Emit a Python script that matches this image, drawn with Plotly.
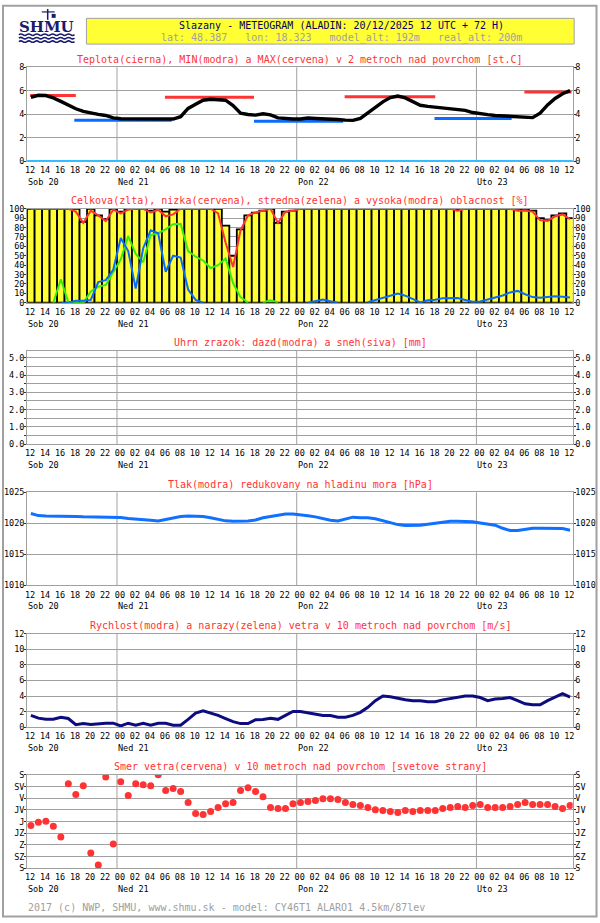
import plotly.graph_objects as go

# ---------------- data ----------------
HOURS = list(range(73))  # forecast hours after 20/12/2025 12 UTC
SLOT = 0.5               # values are drawn in the middle of each hourly slot

TICK_HOURS = list(range(0, 73, 2))
TICK_LABELS = ["12", "14", "16", "18", "20", "22",
               "00", "02", "04", "06", "08", "10", "12", "14", "16", "18", "20", "22",
               "00", "02", "04", "06", "08", "10", "12", "14", "16", "18", "20", "22",
               "00", "02", "04", "06", "08", "10", "12"]
DAY_HOURS = [0, 12, 36, 60]
DAY_LABELS = ["Sob 20", "Ned 21", "Pon 22", "Uto 23"]
MIDNIGHTS = [12, 36, 60]

TEMP = [5.45, 5.62, 5.6, 5.4, 5.1, 4.78, 4.47, 4.25, 4.1, 4.0, 3.9, 3.7,
        3.62, 3.62, 3.62, 3.6, 3.6, 3.62, 3.57, 3.6, 3.8, 4.5, 4.85, 5.2,
        5.28, 5.27, 5.2, 4.75, 4.1, 3.98, 3.93, 4.04, 3.95, 3.7, 3.62, 3.6,
        3.6, 3.68, 3.64, 3.62, 3.62, 3.56, 3.5, 3.48, 3.65, 4.1, 4.55, 5.06,
        5.42, 5.56, 5.4, 5.06, 4.77, 4.68, 4.6, 4.52, 4.46, 4.41, 4.33, 4.15,
        4.03, 3.97, 3.9, 3.87, 3.82, 3.75, 3.72, 3.72, 4.1, 4.8, 5.35, 5.75, 6.02]
TMAX_START = [0.4, 18.4, 42.4, 66.4]
TMAX_END = [6.5, 30.3, 54.5, 72.7]
TMAX_VAL = [5.6, 5.45, 5.5, 5.9]
TMIN_START = [6.3, 30.3, 54.4]
TMIN_END = [19.3, 42.2, 64.7]
TMIN_VAL = [3.5, 3.4, 3.65]
FREEZING = 0.0

CLOUD_TOTAL = [100, 100, 100, 100, 100, 100, 100, 86, 100, 93, 89, 100, 97,
               100, 100, 100, 98, 100, 97, 99, 100, 100, 100, 100, 100, 100,
               82, 50, 78, 93, 96, 98, 100, 85, 97, 98,
               100, 100, 100, 100, 100, 100, 100, 100, 100, 100, 100, 100, 100,
               100, 100, 100, 100, 100, 100, 100, 100, 99,
               100, 100, 100, 100, 100, 100, 100, 100, 100,
               98, 90, 88, 93, 95, 90]
CLOUD_LOW = [100, 100, 100, 100, 100, 100, 97, 85, 98, 93, 87, 99, 95, 99,
             100, 100, 96, 99, 92, 94, 100, 100, 100, 100, 100,
             95, 64, 38, 77, 93, 96, 98, 100, 85, 97, 98,
             100, 100, 100, 100, 100, 100, 100, 100, 100, 100, 100, 100, 100,
             100, 100, 100, 100, 100, 100, 100, 100, 98,
             100, 100, 100, 100, 100, 100, 100,
             98, 98, 97, 88, 87, 92, 94, 89]
N = None
CLOUD_MID = [N, N, N, 0, 25, 0.5, 0, 0, 12, 17, 19, 32, 46, 71, 52, 43, 72, 74,
             78, 83.5, 84, 55, 49, 45, 37, 40, 47, 21, 6, 0, N, 0.5, 2.5, 0.5,
             N, N, N, N, N, N, N, N, N, N, N, N, N, N, N, N, N, N, N, N, N, N,
             N, N, N, N, N, N, N, N, N, N, N, N, N, N, N, N, N]
CLOUD_HIGH = [N, N, N, N, 0, 0, 2, 2, 3, 22, 24, 35, 69, 55, 15, 58, 77, 74,
              33, 50, 48, 14, 3, 0, N, N, N, N, N, N, N, N, N, N, N, N, N,
              0, 2, 3.5, 1.5, 0, N, N, N,
              0.5, 2.8, 5, 7.7, 9.8, 7.5, 4, 0.4, 2.7, 3.2, 4.8, 5, 5, 3, 1,
              1.4, 3.5, 5, 7.7, 11, 12.6, 9, 6, 5.2, 6.3, 7, 6.3, 5.5]

RAIN = [0.0] * 73
SNOW = [0.0] * 73

PRESSURE = [1021.58, 1021.25, 1021.2, 1021.2, 1021.2, 1021.2, 1021.12, 1021.05,
            1021.05, 1021.05, 1021.05, 1021.04, 1020.93, 1020.8, 1020.72, 1020.7,
            1020.5, 1020.38, 1020.65, 1020.95, 1021.1, 1021.2, 1021.2, 1021.1,
            1020.9, 1020.6, 1020.4, 1020.35, 1020.35, 1020.38, 1020.55, 1020.9,
            1021.1, 1021.3, 1021.52, 1021.52, 1021.42, 1021.22, 1021.05, 1020.8,
            1020.5, 1020.4, 1020.65, 1021.0, 1020.9, 1020.9, 1020.75, 1020.45,
            1020.15, 1019.8, 1019.65, 1019.65, 1019.7, 1019.85, 1020.0, 1020.2,
            1020.35, 1020.35, 1020.32, 1020.25, 1020.05, 1019.9, 1019.7, 1019.2,
            1018.85, 1018.85, 1019.05, 1019.2, 1019.2, 1019.2, 1019.2, 1019.15,
            1018.9]

WIND = [1.5, 1.15, 1.0, 1.0, 1.25, 1.1, 0.3, 0.45, 0.35, 0.45, 0.5, 0.5,
        0.15, 0.5, 0.25, 0.5, 0.25, 0.5, 0.5, 0.25, 0.25, 1.0, 1.8, 2.1,
        1.85, 1.5, 1.1, 0.7, 0.45, 0.45, 0.95, 0.97, 1.14, 1.0, 1.5, 2.0,
        2.0, 1.82, 1.6, 1.5, 1.48, 1.27, 1.27, 1.5, 1.9, 2.55, 3.4, 4.0,
        3.9, 3.7, 3.52, 3.4, 3.4, 3.27, 3.27, 3.5, 3.69, 3.8, 4.0, 4.0,
        3.8, 3.4, 3.6, 3.69, 3.8, 3.4, 3.0, 2.88, 2.88, 3.4, 3.8, 4.3, 3.85]

WIND_DIR = [195, 183, 179, 198, 240, 34, 76, 42, 301, 347, 8, 267, 27, 80,
            34, 38, 42, 0, 60, 53, 64, 107, 149, 153, 141, 126, 111, 107, 60,
            50, 64, 84, 126, 130, 130, 111, 107,
            103, 99, 92, 92, 95, 107, 114, 118, 126, 134, 137, 141, 145, 137,
            141, 137, 137, 137, 130, 126, 122, 126, 118, 114, 126, 126, 126,
            122, 114, 107, 114, 114, 114, 122, 130, 118]
DIR_TICKS = [0, 45, 90, 135, 180, 225, 270, 315, 360]
DIR_LABELS = ["S", "SV", "V", "JV", "J", "JZ", "Z", "SZ", "S"]

TITLES = ["Teplota(cierna), MIN(modra) a MAX(cervena) v 2 metroch nad povrchom [st.C]",
          "Celkova(zlta), nizka(cervena), stredna(zelena) a vysoka(modra) oblacnost [%]",
          "Uhrn zrazok: dazd(modra) a sneh(siva) [mm]",
          "Tlak(modra) redukovany na hladinu mora [hPa]",
          "Rychlost(modra) a narazy(zelena) vetra v 10 metroch nad povrchom [m/s]",
          "Smer vetra(cervena) v 10 metroch nad povrchom [svetove strany]"]
HEADER_1 = "Slazany - METEOGRAM (ALADIN: 20/12/2025 12 UTC + 72 H)"
HEADER_2 = "lat: 48.387   lon: 18.323   model_alt: 192m   real_alt: 200m"
FOOTER = "2017 (c) NWP, SHMU, www.shmu.sk - model: CY46T1 ALARO1 4.5km/87lev"

# ---------------- layout constants ----------------
W, H = 600, 923
X0, X1 = 25.3, 574.5
XRANGE = [0, 72.85]
PANELS = [(63, 158), (206, 301), (349.3, 444), (492.7, 586.7), (635.7, 730), (778.3, 872.7)]
FONT = "DejaVu Sans Mono"
GRID = "#a0a0a0"
RED = "#ff3333"
BLUE = "#0a6cff"


def pxx(p):
    return p / W


def pxy(p):
    return 1 - p / H


xs = [h + SLOT for h in HOURS]

fig = go.Figure()

# panel 1: temperature
for s, e, v in zip(TMAX_START, TMAX_END, TMAX_VAL):
    fig.add_trace(go.Scatter(x=[s, e], y=[v, v], mode="lines", line=dict(color=RED, width=3),
                             xaxis="x", yaxis="y", hoverinfo="skip"))
for s, e, v in zip(TMIN_START, TMIN_END, TMIN_VAL):
    fig.add_trace(go.Scatter(x=[s, e], y=[v, v], mode="lines", line=dict(color=BLUE, width=3),
                             xaxis="x", yaxis="y", hoverinfo="skip"))
fig.add_trace(go.Scatter(x=xs, y=TEMP, mode="lines", line=dict(color="black", width=3.4),
                         xaxis="x", yaxis="y"))

# panel 2: clouds
fig.add_trace(go.Bar(x=xs, y=CLOUD_TOTAL, width=1, xaxis="x2", yaxis="y2",
                     marker=dict(color="#ffff33", line=dict(color="black", width=1.8))))
fig.add_trace(go.Scatter(x=xs, y=CLOUD_LOW, mode="lines", line=dict(color=RED, width=2),
                         xaxis="x2", yaxis="y2", connectgaps=False))
fig.add_trace(go.Scatter(x=xs, y=CLOUD_MID, mode="lines", line=dict(color="#33ee11", width=2),
                         xaxis="x2", yaxis="y2", connectgaps=False))
fig.add_trace(go.Scatter(x=xs, y=CLOUD_HIGH, mode="lines", line=dict(color=BLUE, width=2),
                         xaxis="x2", yaxis="y2", connectgaps=False))

# panel 3: precipitation
fig.add_trace(go.Bar(x=xs, y=RAIN, width=1, xaxis="x3", yaxis="y3",
                     marker=dict(color=BLUE, line=dict(width=0))))
fig.add_trace(go.Bar(x=xs, y=SNOW, width=1, xaxis="x3", yaxis="y3",
                     marker=dict(color="#a0a0a0", line=dict(width=0))))

# panel 4: pressure
fig.add_trace(go.Scatter(x=xs, y=PRESSURE, mode="lines", line=dict(color="#1070ff", width=3),
                         xaxis="x4", yaxis="y4"))

# panel 5: wind speed
fig.add_trace(go.Scatter(x=xs, y=WIND, mode="lines", line=dict(color="#0c0c80", width=3),
                         xaxis="x5", yaxis="y5"))

# panel 6: wind direction
fig.add_trace(go.Scatter(x=xs, y=WIND_DIR, mode="markers", marker=dict(color=RED, size=7),
                         xaxis="x6", yaxis="y6"))

# transparent copies so that the right-hand axes are drawn
PANEL_DATA = [TEMP, CLOUD_TOTAL, RAIN, PRESSURE, WIND, WIND_DIR]
for i, series in enumerate(PANEL_DATA, start=1):
    sx = "" if i == 1 else str(i)
    fig.add_trace(go.Scatter(x=xs, y=series, mode="lines", line=dict(width=0, color="rgba(0,0,0,0)"),
                             opacity=0, xaxis="x" + sx, yaxis="y" + str(i + 6), hoverinfo="skip"))

tickfont = dict(family=FONT, size=8.5, color="black")

Y_SPECS = [
    dict(range=[0, 8], tickvals=[0, 2, 4, 6, 8], ticktext=["0", "2", "4", "6", "8"]),
    dict(range=[0, 100], tickvals=list(range(0, 101, 10)), ticktext=[str(v) for v in range(0, 101, 10)]),
    dict(range=[0, 5.42], tickvals=[0, 0.5, 1, 1.5, 2, 2.5, 3, 3.5, 4, 4.5, 5],
         ticktext=["0.0", "", "1.0", "", "2.0", "", "3.0", "", "4.0", "", "5.0"]),
    dict(range=[1010, 1025], tickvals=[1010, 1015, 1020, 1025], ticktext=["1010", "1015", "1020", "1025"]),
    dict(range=[0, 12], tickvals=[0, 2, 4, 6, 8, 10, 12], ticktext=["0", "2", "4", "6", "8", "10", "12"]),
    dict(range=[360, 0], tickvals=DIR_TICKS, ticktext=DIR_LABELS),
]

layout = dict(
    width=W, height=H, autosize=False,
    margin=dict(l=0, r=0, t=0, b=0, pad=0),
    paper_bgcolor="white", plot_bgcolor="white",
    showlegend=False, barmode="overlay",
    font=dict(family=FONT, size=10, color="black"),
)

shapes = []
annotations = []

for i, ((top, bot), ys) in enumerate(zip(PANELS, Y_SPECS), start=1):
    sx = "" if i == 1 else str(i)
    dom_y = [pxy(bot), pxy(top)]
    layout["xaxis" + sx] = dict(
        domain=[pxx(X0), pxx(X1)], range=XRANGE, anchor="y" + sx,
        tickmode="array", tickvals=TICK_HOURS, ticktext=TICK_LABELS,
        showgrid=False, zeroline=False, showline=True, linecolor=GRID, linewidth=1, mirror=True,
        ticks="outside", ticklen=1, tickcolor="white", tickfont=tickfont, ticklabelshift=3,
        fixedrange=True,
    )
    common_y = dict(range=ys["range"], tickmode="array", tickvals=ys["tickvals"], ticktext=ys["ticktext"],
                    zeroline=False, ticks="outside", ticklen=2, tickcolor="#333333",
                    tickfont=tickfont, ticklabelstandoff=-2, fixedrange=True)
    layout["yaxis" + sx] = dict(domain=dom_y, anchor="x" + sx, showgrid=True, gridcolor=GRID, gridwidth=1,
                                showline=True, linecolor=GRID, linewidth=1, mirror=True, **common_y)
    layout["yaxis" + str(i + 6)] = dict(overlaying="y" + sx, side="right", anchor="x" + sx,
                                        showgrid=False, showline=False, **common_y)
    for m in MIDNIGHTS:
        shapes.append(dict(type="line", xref="x" + sx, yref="y" + sx + " domain", x0=m, x1=m, y0=0, y1=1,
                           line=dict(color=GRID, width=1), layer="below"))
    annotations.append(dict(text=TITLES[i - 1], xref="paper", yref="paper", x=pxx(300), y=pxy(top - 8),
                            xanchor="center", yanchor="middle", showarrow=False,
                            font=dict(family=FONT, size=10, color=RED)))
    for dh, dl in zip(DAY_HOURS, DAY_LABELS):
        annotations.append(dict(text=dl, xref="x" + sx, yref="paper", x=dh, y=pxy(bot + 21),
                                xanchor="left", yanchor="middle", xshift=-1, showarrow=False,
                                font=dict(family=FONT, size=8.5, color="black")))

shapes.append(dict(type="line", xref="x domain", yref="y", x0=0, x1=1, y0=FREEZING, y1=FREEZING,
                   line=dict(color="#33bbff", width=2.5), layer="above"))

# header box
shapes.append(dict(type="rect", xref="paper", yref="paper", x0=pxx(85), x1=pxx(576), y0=pxy(39.5), y1=pxy(13.5),
                   fillcolor="#ffff33", line=dict(color=GRID, width=1), layer="below"))
annotations.append(dict(text=HEADER_1, xref="paper", yref="paper", x=pxx(342), y=pxy(20.5), xanchor="center",
                        yanchor="middle", showarrow=False, font=dict(family=FONT, size=10, color="#000066")))
annotations.append(dict(text=HEADER_2.replace(" ", "\u00a0"), xref="paper", yref="paper", x=pxx(342), y=pxy(33),
                        xanchor="center", yanchor="middle", showarrow=False,
                        font=dict(family=FONT, size=10, color="#a0a0a0")))
annotations.append(dict(text=FOOTER, xref="paper", yref="paper", x=pxx(24), y=pxy(912), xanchor="left",
                        yanchor="middle", showarrow=False, font=dict(family=FONT, size=10, color="#a0a0a0")))

# SHMU logo (decoration)
annotations.append(dict(text="<b>SHMU</b>", xref="paper", yref="paper", x=pxx(45), y=pxy(22), xanchor="center",
                        yanchor="middle", showarrow=False,
                        font=dict(family="DejaVu Serif", size=15, color="#1a1a6e")))
for wy in (30, 33.5, 37):
    xx = 17.0
    path = "M %.5f %.5f" % (pxx(xx), pxy(wy))
    while xx < 72:
        path += " Q %.5f %.5f %.5f %.5f" % (pxx(xx + 2), pxy(wy - 1.5), pxx(xx + 4), pxy(wy))
        path += " Q %.5f %.5f %.5f %.5f" % (pxx(xx + 6), pxy(wy + 1.5), pxx(xx + 8), pxy(wy))
        xx += 8
    shapes.append(dict(type="path", xref="paper", yref="paper", path=path,
                       line=dict(color="#1a1a6e", width=1.5)))
shapes.append(dict(type="line", xref="paper", yref="paper", x0=pxx(46), x1=pxx(46), y0=pxy(15), y1=pxy(4),
                   line=dict(color="#1a1a6e", width=1.5)))
shapes.append(dict(type="line", xref="paper", yref="paper", x0=pxx(40), x1=pxx(53), y0=pxy(7), y1=pxy(7),
                   line=dict(color="#1a1a6e", width=1.2)))
shapes.append(dict(type="rect", xref="paper", yref="paper", x0=pxx(50), x1=pxx(54), y0=pxy(13), y1=pxy(9),
                   fillcolor="#1a1a6e", line=dict(width=0)))

shapes.append(dict(type="rect", xref="paper", yref="paper", x0=pxx(1), x1=pxx(598.5), y0=pxy(921.5), y1=pxy(0.8),
                   line=dict(color=GRID, width=2), layer="above"))

layout["shapes"] = shapes
layout["annotations"] = annotations
fig.update_layout(**layout)

fig.write_html("out.html", config={"displayModeBar": False, "staticPlot": True},
               post_script="document.body.style.margin='0';document.body.style.overflow='hidden';")
